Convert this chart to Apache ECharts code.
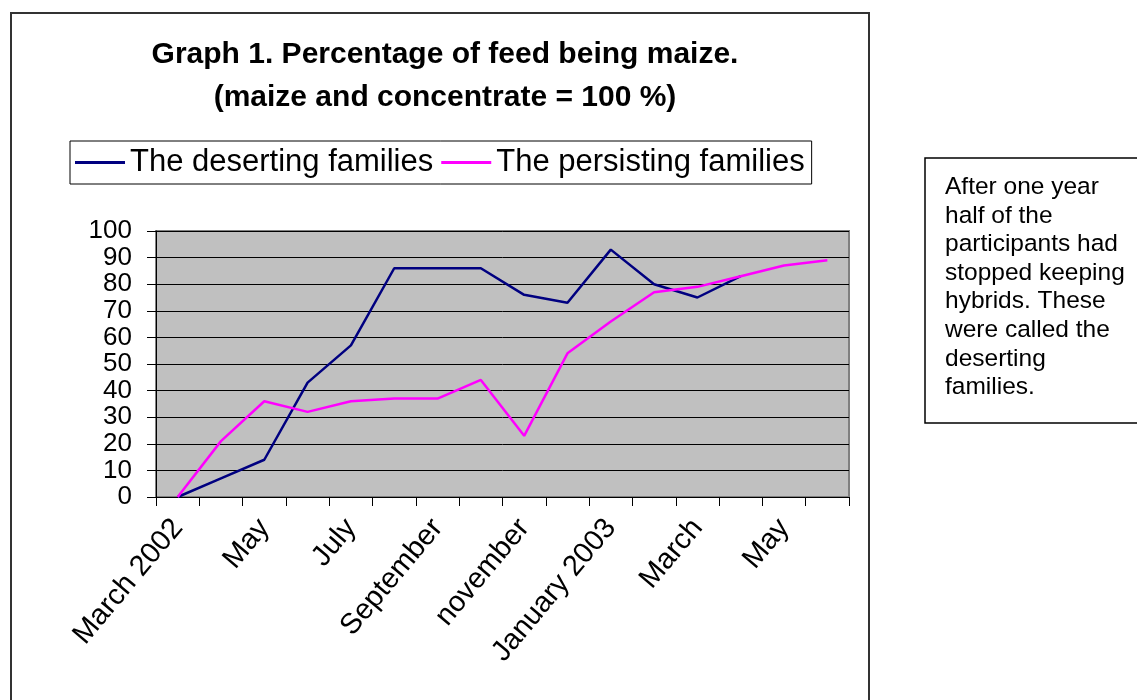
<!DOCTYPE html>
<html>
<head>
<meta charset="utf-8">
<script src="https://cdn.jsdelivr.net/npm/echarts@6/dist/echarts.min.js"></script>
<style>
  html, body { margin: 0; padding: 0; background: #fff; }
  #presentation { width: 1137px; height: 700px; }
</style>
</head>
<body>
<div id="presentation"></div>
<script>
var months = ['March 2002', 'April', 'May', 'June', 'July', 'August', 'September', 'October',
  'november', 'December', 'January 2003', 'February', 'March', 'April', 'May', 'June'];
var deserting = [0, 7, 14, 43, 57, 86, 86, 86, 76, 73, 93, 80, 75, 83];
var persisting = [0, 21, 36, 32, 36, 37, 37, 44, 23, 54, 66, 77, 79, 83, 87, 89];
var noteLines = ['After one year', 'half of the', 'participants had', 'stopped keeping',
  'hybrids. These', 'were called the', 'deserting', 'families.'];

var font = 'Liberation Sans, Arial, sans-serif';

var option = {
  backgroundColor: '#fff',
  animation: false,
  title: {
    text: 'Graph 1. Percentage of feed being maize.\n(maize and concentrate = 100 %)',
    left: 440,
    top: 28,
    textAlign: 'center',
    textStyle: { fontFamily: font, fontSize: 30, fontWeight: 'bold', color: '#000', lineHeight: 43 }
  },
  legend: {
    left: 70,
    top: 141,
    padding: [6, 7, 6, 5],
    borderColor: '#000',
    borderWidth: 1,
    itemWidth: 50,
    itemHeight: 3,
    itemGap: 8,
    icon: 'rect',
    textStyle: { fontFamily: font, fontSize: 31, color: '#000' },
    data: ['The deserting families', 'The persisting families']
  },
  grid: {
    left: 156,
    top: 231,
    width: 693,
    height: 266,
    show: true,
    backgroundColor: '#C0C0C0',
    borderColor: '#808080',
    borderWidth: 2
  },
  xAxis: {
    type: 'category',
    data: months,
    boundaryGap: true,
    axisLine: { lineStyle: { color: '#000', width: 1 } },
    axisTick: { show: true, length: 9, alignWithLabel: false, interval: 0, lineStyle: { color: '#000' } },
    axisLabel: {
      interval: 1,
      rotate: 50,
      margin: 26,
      hideOverlap: false,
      fontFamily: font,
      fontSize: 29,
      color: '#000'
    }
  },
  yAxis: {
    type: 'value',
    min: 0,
    max: 100,
    interval: 10,
    axisLine: { show: true, lineStyle: { color: '#000', width: 1 } },
    axisTick: { show: true, length: 9, lineStyle: { color: '#000' } },
    splitLine: { show: true, lineStyle: { color: '#000', width: 1 } },
    axisLabel: {
      margin: 24,
      showMinLabel: true,
      showMaxLabel: true,
      fontFamily: font,
      fontSize: 26,
      color: '#000'
    }
  },
  series: [
    {
      name: 'The deserting families',
      type: 'line',
      data: deserting,
      showSymbol: false,
      symbol: 'none',
      itemStyle: { color: '#000080' },
      lineStyle: { color: '#000080', width: 2.5 }
    },
    {
      name: 'The persisting families',
      type: 'line',
      data: persisting,
      showSymbol: false,
      symbol: 'none',
      itemStyle: { color: '#FF00FF' },
      lineStyle: { color: '#FF00FF', width: 2.5 }
    }
  ],
  graphic: [
    {
      type: 'rect',
      silent: true,
      z: -1,
      shape: { x: 11, y: 13, width: 858, height: 700 },
      style: { fill: 'none', stroke: '#333', lineWidth: 2 }
    },
    {
      type: 'rect',
      silent: true,
      shape: { x: 925, y: 158, width: 230, height: 265 },
      style: { fill: '#fff', stroke: '#000', lineWidth: 1.5 }
    },
    {
      type: 'text',
      silent: true,
      left: 945,
      top: 173,
      style: {
        text: noteLines.join('\n'),
        fontFamily: font,
        fontSize: 24.5,
        lineHeight: 28.6,
        fill: '#000'
      }
    }
  ]
};

var mychart;
window.onload = function () {
  mychart = echarts.init(document.getElementById('presentation'));
  mychart.setOption(option);
};
</script>
</body>
</html>
